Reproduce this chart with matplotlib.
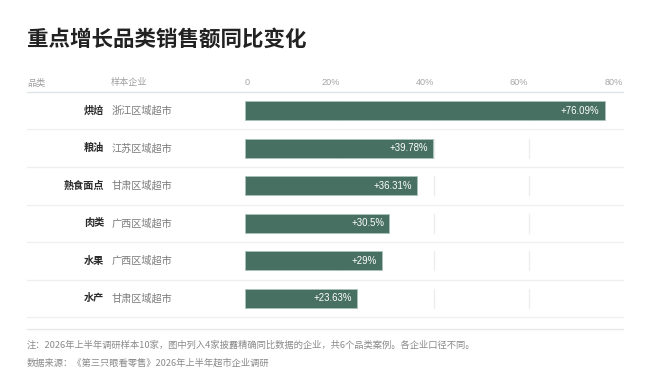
import matplotlib
matplotlib.use("Agg")
import matplotlib.pyplot as plt
from matplotlib.lines import Line2D
from matplotlib.transforms import blended_transform_factory

categories = ["烘焙", "粮油", "熟食面点", "肉类", "水果", "水产"]
companies = ["浙江区域超市", "江苏区域超市", "甘肃区域超市", "广西区域超市", "广西区域超市", "甘肃区域超市"]
growth = [76.09, 39.78, 36.31, 30.5, 29, 23.63]
value_labels = ["+76.09%", "+39.78%", "+36.31%", "+30.5%", "+29%", "+23.63%"]
ticks = [0, 20, 40, 60, 80]
tick_labels = ["0", "20%", "40%", "60%", "80%"]

TITLE = "重点增长品类销售额同比变化"
NOTE = "注：2026年上半年调研样本10家，图中列入4家披露精确同比数据的企业，共6个品类案例。各企业口径不同。"
SOURCE = "数据来源：《第三只眼看零售》2026年上半年超市企业调研"

BAR = "#476f62"
W, H = 650, 388
NUM_FONT = ["Liberation Sans", "DejaVu Sans"]

plt.rcParams["font.family"] = ["Noto Sans CJK SC", "DejaVu Sans"]

fig = plt.figure(figsize=(6.5, 3.88), dpi=100)
fig.patch.set_facecolor("white")


def fx(px):
    return px / W


def fy(py):
    return 1 - py / H


ax = fig.add_axes([fx(245), fy(317), fx(623) - fx(245), fy(92) - fy(317)])
n = len(categories)
ypos = [i + 0.5 for i in range(n)]
ax.set_xlim(0, 80)
ax.set_ylim(n, 0)

# short grid pieces inside each row
for y in ypos:
    for t in ticks[1:-1]:
        ax.plot([t, t], [y - 0.25, y + 0.25], color="#ececec", lw=0.9, zorder=1)

ax.barh(ypos, growth, height=0.5, color=BAR, edgecolor="#a9c4ba", linewidth=0.6, zorder=2)
for y, v, lab in zip(ypos, growth, value_labels):
    ax.text(v - 1.05, y, lab, ha="right", va="center", color="white",
            fontsize=6.9, family=NUM_FONT, zorder=3)

ax.set_xticks(ticks)
ax.set_xticklabels(tick_labels, family=NUM_FONT)
ax.xaxis.tick_top()
ax.tick_params(axis="x", length=0, pad=3.5, labelsize=6.6, labelcolor="#a6a6a6")
for i, lbl in enumerate(ax.get_xticklabels()):
    lbl.set_ha("left" if i == 0 else "right")
ax.set_yticks([])
for s in ax.spines.values():
    s.set_visible(False)

# left-side labels
tr = blended_transform_factory(fig.transFigure, ax.transData)
for y, c, comp in zip(ypos, categories, companies):
    ax.text(fx(104), y, c, transform=tr, ha="right", va="center",
            fontsize=7.3, fontweight="bold", color="#2b2b2b")
    ax.text(fx(112), y, comp, transform=tr, ha="left", va="center",
            fontsize=7.3, color="#7a7a7a")

# separators
fig.add_artist(Line2D([fx(27), fx(623)], [fy(92), fy(92)], color="#dfe4e6", lw=1.0))
for i in range(1, n + 1):
    yy = fy(92 + i * 37.5)
    fig.add_artist(Line2D([fx(27), fx(623)], [yy, yy], color="#efefef", lw=0.9))
fig.add_artist(Line2D([fx(27), fx(623)], [fy(329), fy(329)], color="#e6e6e6", lw=0.9))

# header
fig.text(fx(27), fy(83), "品类", fontsize=6.6, color="#a0a0a0", va="center")
fig.text(fx(111), fy(83), "样本企业", fontsize=6.6, color="#a0a0a0", va="center")

fig.text(fx(27), fy(39), TITLE, fontsize=15.5, fontweight="bold", color="#222222", va="center")
fig.text(fx(27), fy(345), NOTE, fontsize=6.7, color="#8a8a8a", va="center")
fig.text(fx(27), fy(363), SOURCE, fontsize=6.7, color="#8a8a8a", va="center")

fig.savefig("out.png", dpi=100, facecolor="white")
